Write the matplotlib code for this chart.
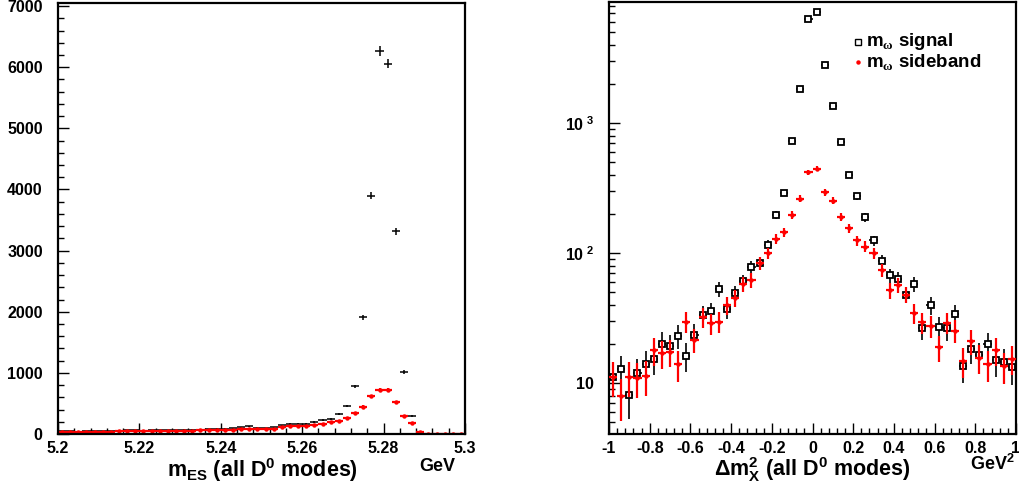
import numpy as np
import matplotlib
matplotlib.use('Agg')
import matplotlib.pyplot as plt
from matplotlib.ticker import MultipleLocator, FixedLocator, FixedFormatter, NullFormatter

plt.rcParams['font.family'] = ['Liberation Sans', 'DejaVu Sans']
plt.rcParams['font.weight'] = 'bold'
plt.rcParams['mathtext.fontset'] = 'custom'
plt.rcParams['mathtext.rm'] = 'Liberation Sans:bold'
plt.rcParams['mathtext.bf'] = 'Liberation Sans:bold'
plt.rcParams['mathtext.it'] = 'Liberation Serif'
plt.rcParams['mathtext.default'] = 'rm'

# m_ES histogram, 50 bins from 5.20 to 5.30 GeV
mes_centers = np.round(np.arange(5.201, 5.300, 0.002), 3)
mes_signal = [45, 42, 40, 50, 42, 50, 48, 55, 58, 62,
              55, 58, 60, 65, 62, 68, 70, 72, 78, 85,
              88, 90, 110, 125, 100, 95, 110, 140, 165, 170,
              163, 200, 234, 245, 330, 460, 780, 1910, 3900, 6270,
              6060, 3320, 1020, 300, 30, 0, 0, 0, 0, 0]
mes_sideband = [38, 36, 34, 38, 35, 40, 40, 42, 44, 46,
                44, 46, 48, 50, 52, 54, 52, 58, 60, 62,
                64, 65, 76, 82, 82, 76, 87, 120, 136, 136,
                131, 147, 163, 190, 212, 256, 338, 446, 615, 725,
                725, 523, 288, 180, 30, 0, 0, 0, 0, 0]

# delta m_X^2 histogram, 50 bins from -1 to 1 GeV^2
dm_centers = np.round(np.arange(-0.98, 1.0, 0.04), 2)
dm_signal = [11.1, 12.7, 8.1, 11.9, 14.0, 15.4, 20.1, 19.2, 23.1, 16.2,
             23.4, 33.3, 35.6, 52.8, 37.1, 49.0, 60.5, 78.0, 83.7, 116,
             195, 290, 723, 1837, 6350, 7145, 2810, 1343, 718, 395,
             274, 188, 125, 87.3, 67.3, 63.1, 47.8, 57.8, 26.5, 39.6,
             26.8, 26.3, 33.7, 13.6, 18.4, 16.4, 19.8, 14.9, 14.5, 13.2]
dm_sideband = [11.1, 7.9, 11.1, 10.9, 11.3, 17.8, 17.0, 17.4, 14.0, 29.7,
               21.5, 32.0, 28.8, 29.6, 39.8, 45.1, 58.1, 62.0, 83.7, 100,
               128, 144, 197, 262, 418, 446, 293, 253, 190, 156,
               125, 112, 100, 73.6, 51.6, 56.4, 47.8, 34.5, 29.3, 27.6,
               18.8, 29.0, 25.3, 14.7, 20.9, 15.6, 14.0, 17.8, 13.4, 15.4]

fig = plt.figure(figsize=(10.19, 4.90), dpi=100)
ax1 = fig.add_axes([58/1019, 1-434/490, 407/1019, 431/490])
ax2 = fig.add_axes([609/1019, 1-434/490, 407/1019, 432/490])

# left panel
sig = np.array(mes_signal, float)
sb = np.array(mes_sideband, float)
ax1.errorbar(mes_centers, sig, xerr=0.001, yerr=np.sqrt(sig), fmt='none',
             ecolor='black', elinewidth=1.1)
ax1.errorbar(mes_centers, sb, xerr=0.001, yerr=np.sqrt(sb), fmt='o',
             color='red', ms=3.2, ecolor='red', elinewidth=1.6, mew=0)
ax1.set_xlim(5.2, 5.3)
ax1.set_ylim(0, 7050)
ax1.xaxis.set_major_locator(MultipleLocator(0.02))
ax1.xaxis.set_minor_locator(MultipleLocator(0.004))
ax1.yaxis.set_major_locator(MultipleLocator(1000))
ax1.yaxis.set_minor_locator(MultipleLocator(200))
ax1.set_xticks([5.2, 5.22, 5.24, 5.26, 5.28, 5.3])
ax1.set_xticklabels(['5.2', '5.22', '5.24', '5.26', '5.28', '5.3'])

# right panel
sig2 = np.array(dm_signal, float)
sb2 = np.array(dm_sideband, float)
ax2.errorbar(dm_centers, sig2, xerr=0.02, yerr=np.sqrt(sig2), fmt='s',
             mfc='white', mec='black', ms=4.2, mew=1.3,
             ecolor='black', elinewidth=1.2, zorder=2)
ax2.errorbar(dm_centers, sb2, xerr=0.02, yerr=np.sqrt(sb2), fmt='o',
             color='red', ms=3.2, mew=0, ecolor='red', elinewidth=1.6, zorder=3)
ax2.set_yscale('log')
ax2.set_xlim(-1, 1)
ax2.set_ylim(4.05, 8530)
ax2.xaxis.set_major_locator(MultipleLocator(0.2))
ax2.xaxis.set_minor_locator(MultipleLocator(0.04))
ax2.set_xticks(np.round(np.arange(-1, 1.01, 0.2), 1))
ax2.set_xticklabels(['-1', '-0.8', '-0.6', '-0.4', '-0.2', '0',
                     '0.2', '0.4', '0.6', '0.8', '1'])
ax2.yaxis.set_major_locator(FixedLocator([10, 100, 1000]))
ax2.yaxis.set_major_formatter(FixedFormatter(['10', r'$10^{\ 2}$', r'$10^{\ 3}$']))
minors = [m * d for d in [1, 10, 100, 1000] for m in range(2, 10)]
ax2.yaxis.set_minor_locator(FixedLocator(minors))
ax2.yaxis.set_minor_formatter(NullFormatter())

for ax in (ax1, ax2):
    for s in ax.spines.values():
        s.set_linewidth(1.6)
    ax.tick_params(which='both', direction='in', top=False, right=False,
                   labelsize=11.5, width=1.0)
    ax.tick_params(which='major', length=8)
    ax.tick_params(which='minor', length=4.5)
    ax.tick_params(axis='y', pad=11)
    ax.tick_params(axis='x', pad=5)
    for lab in ax.get_xticklabels() + ax.get_yticklabels():
        lab.set_fontweight('bold')

# legend
ax2.plot([0.224], [4200], marker='s', ms=4, mfc='white', mec='black', mew=1.0)
ax2.plot([0.224], [2940], marker='o', ms=3.2, color='red', mew=0)
ax2.text(0.262, 4200, r'm$_{\mathit{\omega}}$ signal', fontsize=13.5,
         fontweight='bold', va='center', ha='left')
ax2.text(0.262, 2940, r'm$_{\mathit{\omega}}$ sideband', fontsize=13.5,
         fontweight='bold', va='center', ha='left')

# axis titles
fig.text(262/1019, 1-470/490, r'm$_{\mathrm{ES}}$ (all D$^{0}$ modes)',
         fontsize=15.5, fontweight='bold', ha='center', va='center')
fig.text(455/1019, 1-466/490, 'GeV', fontsize=13, fontweight='bold',
         ha='right', va='center')
fig.text(812/1019, 1-470/490, r'$\Delta$m$_{\mathrm{X}}^{2}$ (all D$^{0}$ modes)',
         fontsize=15.5, fontweight='bold', ha='center', va='center')
fig.text(1015/1019, 1-464/490, r'GeV$^{2}$', fontsize=13, fontweight='bold',
         ha='right', va='center')

fig.savefig('out.png', dpi=100)
